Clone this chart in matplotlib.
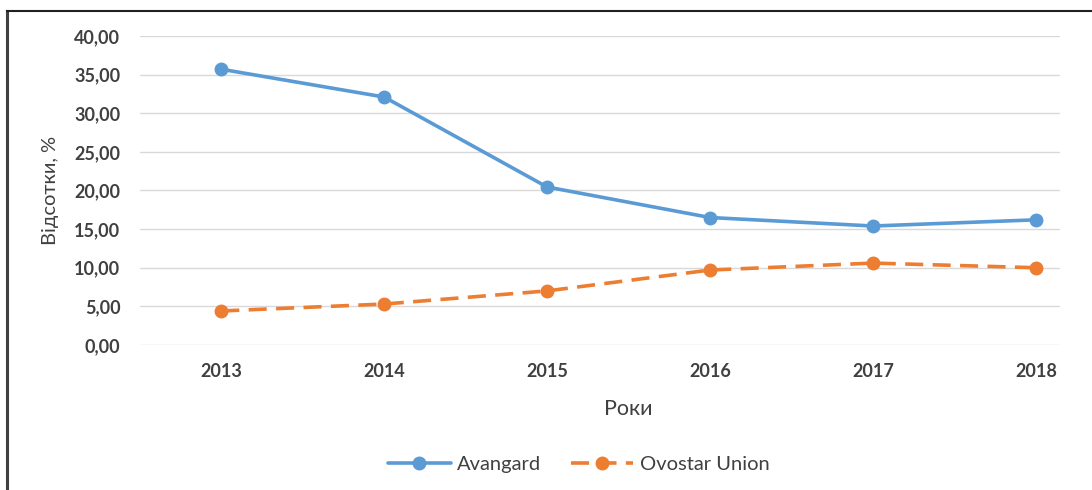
import matplotlib.pyplot as plt
from matplotlib.lines import Line2D
from matplotlib.ticker import FuncFormatter

# Дані з графіка
years = ['2013', '2014', '2015', '2016', '2017', '2018']
avangard = [35.7, 32.1, 20.45, 16.5, 15.4, 16.2]
ovostar = [4.4, 5.3, 7.0, 9.7, 10.6, 10.0]

plt.rcParams['font.family'] = ['Lato', 'DejaVu Sans']

fig = plt.figure(figsize=(10.92, 4.9), dpi=100)
ax = fig.add_axes([0.128, 0.296, 0.843, 0.6305])

x = range(len(years))
ax.plot(x, avangard, color='#5B9BD5', lw=2.6, marker='o', markersize=9,
        label='Avangard', solid_capstyle='round')
ax.plot(x, ovostar, color='#ED7D31', lw=2.6, marker='o', markersize=9,
        dashes=[5, 2.6], label='Ovostar Union')

ax.set_ylim(0, 40)
ax.set_yticks(range(0, 41, 5))
ax.set_xlim(-0.5, 5.15)
ax.set_xticks(list(x))
ax.set_xticklabels(years)
ax.yaxis.set_major_formatter(FuncFormatter(lambda v, p: f'{v:.2f}'.replace('.', ',')))

ax.grid(axis='y', color='#D9D9D9', lw=1)
ax.set_axisbelow(True)
for s in ax.spines.values():
    s.set_visible(False)
ax.tick_params(length=0, labelsize=13, colors='#404040', pad=14)
ax.tick_params(axis='x', pad=13)
for lbl in ax.get_xticklabels() + ax.get_yticklabels():
    lbl.set_fontweight('bold')

ax.set_xlabel('Роки', fontsize=15.5, color='#404040')
ax.xaxis.set_label_coords(0.531, -0.175)
ax.set_ylabel('Відсотки, %', fontsize=14.5, color='#404040')
ax.yaxis.set_label_coords(-0.088, 0.5)

fig.legend(loc='center', bbox_to_anchor=(0.53, 0.053), ncol=2, frameon=False,
           handlelength=3.1, handletextpad=0.3, columnspacing=1.5,
           fontsize=14.5, labelcolor='#404040')

# рамка зліва та зверху
fig.add_artist(Line2D([0.0068, 0.0068], [0, 0.978], color='#404040', lw=2.2, transform=fig.transFigure))
fig.add_artist(Line2D([0.0068, 1], [0.978, 0.978], color='#202020', lw=1.5, transform=fig.transFigure))

fig.savefig('out.png', dpi=100)
